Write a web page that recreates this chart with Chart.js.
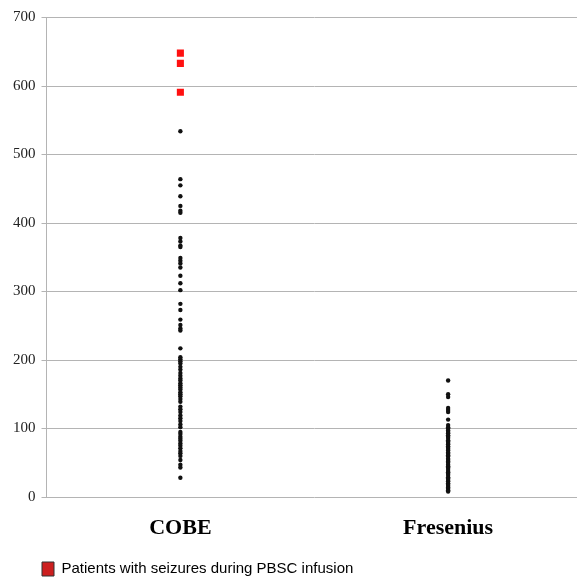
<!DOCTYPE html>
<html>
<head>
<meta charset="utf-8">
<script src="https://cdn.jsdelivr.net/npm/chart.js@4"></script>
<style>
  html, body { margin: 0; padding: 0; background: #fff; overflow: hidden; }
  #wrap { width: 587px; height: 578px; }
</style>
</head>
<body>
<div id="wrap"><canvas id="myChart"></canvas></div>
<script>
// categories
var groups = ["COBE", "Fresenius"];
var yTicks = [0, 100, 200, 300, 400, 500, 600, 700];

// values
var cobeValues = [534, 464, 455, 439, 425, 418, 415, 378, 373, 367, 365, 349, 345, 341,
  335, 323, 312, 302, 282, 273, 259, 251, 246, 243, 217, 204, 201, 198, 195, 190, 186,
  181, 177, 173, 170, 166, 163, 160, 157, 153, 150, 147, 143, 139, 132, 128, 124, 119,
  115, 111, 106, 102, 95, 92, 88, 85, 82, 78, 75, 71, 67, 64, 60, 54, 47, 43, 28];
var freseniusValues = [170, 150, 146, 130, 127, 124, 113, 105, 102, 100, 97, 95, 93, 90,
  88, 86, 83, 81, 79, 77, 74, 72, 70, 68, 65, 63, 61, 59, 56, 54, 52, 50, 47, 45, 43, 41,
  38, 36, 34, 32, 29, 27, 25, 23, 20, 18, 16, 14, 12, 10, 8];
var seizureValues = [648, 633, 591];

function toPoints(group, values) {
  return values.map(function (v) { return { x: group, y: v }; });
}

var ctx = document.getElementById("myChart").getContext("2d");
var chart = new Chart(ctx, {
  type: "scatter",
  data: {
    labels: groups,
    datasets: [
      {
        label: "COBE",
        data: toPoints("COBE", cobeValues),
        backgroundColor: "#111",
        borderColor: "#111",
        pointRadius: 2.2,
        borderWidth: 0
      },
      {
        label: "Fresenius",
        data: toPoints("Fresenius", freseniusValues),
        backgroundColor: "#111",
        borderColor: "#111",
        pointRadius: 2.2,
        borderWidth: 0
      },
      {
        label: "Patients with seizures during PBSC infusion",
        data: toPoints("COBE", seizureValues),
        backgroundColor: "#ff1010",
        borderColor: "#ff1010",
        pointStyle: "rect",
        pointRadius: 5,
        borderWidth: 0
      }
    ]
  },
  options: {
    responsive: true,
    maintainAspectRatio: false,
    animation: false,
    layout: { padding: { left: 7, right: 0, top: 17.5, bottom: -8.5 } },
    plugins: {
      tooltip: { enabled: false },
      legend: {
        position: "bottom",
        align: "start",
        labels: {
          generateLabels: function (c) {
            return [{
              text: "Patients with seizures during PBSC infusion",
              fillStyle: "#cc1f1f",
              strokeStyle: "#333",
              lineWidth: 1,
              datasetIndex: 2
            }];
          },
          boxWidth: 12,
          boxHeight: 14,
          padding: 35,
          color: "#222",
          font: { family: "Liberation Sans", size: 15 }
        }
      }
    },
    scales: {
      x: {
        type: "category",
        labels: groups,
        offset: true,
        grid: { display: false, drawTicks: false },
        border: { display: false },
        afterFit: function (axis) {
          // keep the labels' room small so the legend sits close, and don't clip the labels
          axis.height = 29.5;
          axis._computeLabelArea = function () { return undefined; };
        },
        ticks: {
          padding: 18,
          color: "#000",
          font: { family: "Liberation Serif", size: 22, weight: "bold" }
        }
      },
      y: {
        min: 0,
        max: 700,
        afterBuildTicks: function (axis) {
          axis.ticks = yTicks.map(function (v) { return { value: v }; });
        },
        grid: { color: "#b4b4b4", lineWidth: 1, tickLength: 5 },
        border: { color: "#b4b4b4" },
        ticks: {
          padding: 6,
          color: "#222",
          font: { family: "Liberation Serif", size: 15 }
        }
      }
    }
  }
});
</script>
</body>
</html>
